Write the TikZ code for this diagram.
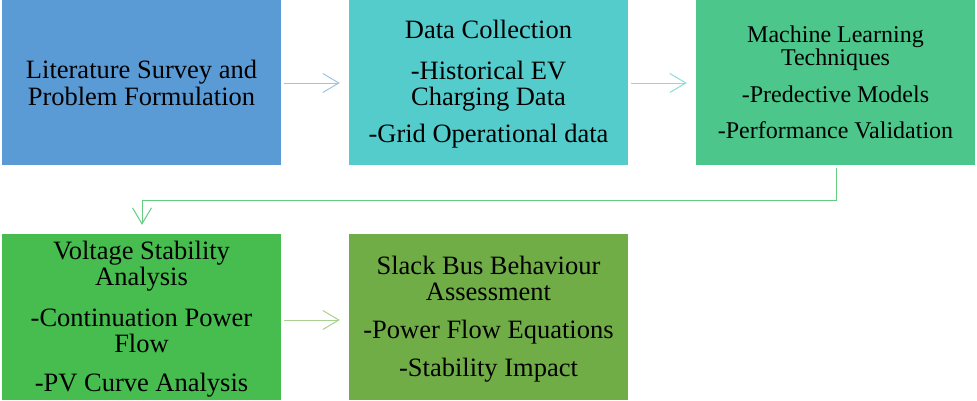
\documentclass[tikz,border=0pt]{standalone}
\usepackage{fontspec}
\setmainfont{Liberation Serif}
\usetikzlibrary{arrows.meta,calc}
\definecolor{cBlue}{HTML}{5B9BD5}
\definecolor{cTeal}{HTML}{54CCCC}
\definecolor{cMint}{HTML}{4CC68A}
\definecolor{cGreen}{HTML}{47BC4F}
\definecolor{cOlive}{HTML}{70AD47}
\definecolor{aBlue}{HTML}{9DC3E6}
\definecolor{aTeal}{HTML}{8ADCD8}
\definecolor{aMint}{HTML}{62CC80}
\definecolor{aOlive}{HTML}{A9D18E}
\tikzset{
  boxstyle/.style={minimum width=279pt, minimum height=165pt, inner sep=0pt, align=center, text=black,
    font=\fontsize{26.5}{26}\selectfont},
  smallbox/.style={boxstyle, font=\fontsize{24}{23}\selectfont},
  flowarrow/.style={line width=1pt, -{Straight Barb[length=16pt,width=19pt,line width=1pt]}}
}
\begin{document}
\begin{tikzpicture}[x=1pt,y=-1pt]
\useasboundingbox (0,0) rectangle (977,400);
\node[boxstyle, fill=cBlue] (b1) at (141.5,82.5) {Literature Survey and\\[1pt]Problem Formulation};
\node[boxstyle, fill=cTeal] (b2) at (488.5,82.5) {\rule{0pt}{21pt}Data Collection\\[15pt]-Historical EV\\Charging Data\\[11pt]-Grid Operational data};
\node[smallbox, fill=cMint] (b3) at (835.5,82.5) {Machine Learning\\Techniques\\[14pt]-Predective Models\\[13pt]-Performance Validation};
\node[boxstyle, fill=cGreen, minimum height=166pt] (b4) at (141.5,317) {\rule{0pt}{22pt}Voltage Stability\\Analysis\\[15pt]-Continuation Power\\Flow\\[13pt]-PV Curve Analysis};
\node[boxstyle, fill=cOlive, minimum height=166pt] (b5) at (488.5,317) {\rule{0pt}{22pt}Slack Bus Behaviour\\Assessment\\[12pt]-Power Flow Equations\\[12pt]-Stability Impact};
\draw[flowarrow, aBlue] ($(b1.east)+(3,0.5)$) -- ($(b2.west)+(-9,0.5)$);
\draw[flowarrow, aTeal] ($(b2.east)+(3,0.5)$) -- ($(b3.west)+(-9,0.5)$);
\draw[flowarrow, aOlive] ($(b4.east)+(3,3)$) -- ($(b5.west)+(-9,3)$);
\draw[flowarrow, aMint] ($(b3.south)+(0.5,3)$) -- ++(0,32) -| ($(b4.north)+(0.5,-9)$);
\end{tikzpicture}
\end{document}
